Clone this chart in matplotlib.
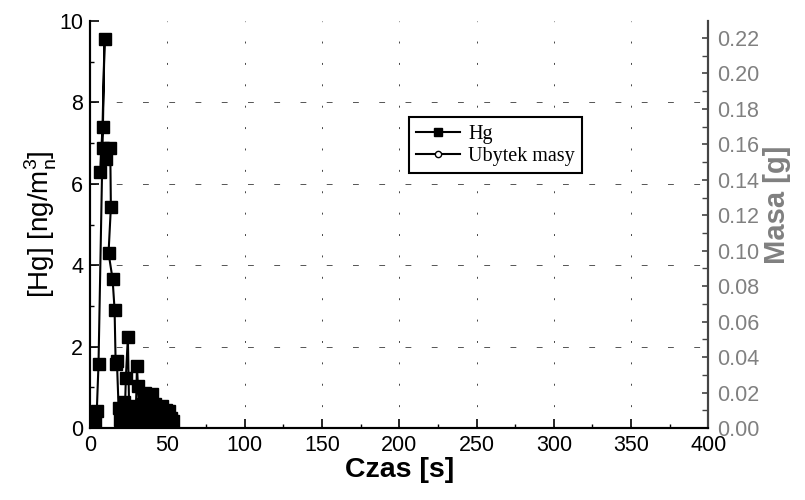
import matplotlib
matplotlib.use("Agg")
import matplotlib.pyplot as plt
from matplotlib.ticker import MultipleLocator, FormatStrFormatter

# ---- data ----
czas_hg = [1.0, 3.2, 4.3, 5.4, 9.3, 8.0, 6.5, 8.6, 10.2, 13.0, 13.4, 11.9, 14.5, 15.8,
           16.5, 17.3, 18.4, 19.4, 20.5, 21.6, 22.4, 23.1, 24.4, 25.2, 25.7, 26.7, 27.8,
           28.5, 29.5, 30.3, 30.9, 31.8, 32.6, 33.5, 34.6, 35.7, 36.5, 37.4, 38.3, 39.2,
           40.0, 41.0, 41.8, 42.7, 43.6, 44.5, 45.5, 46.5, 47.4, 48.3, 49.2, 50.0, 50.8,
           52.0, 53.5]
hg = [0.05, 0.12, 0.42, 1.57, 9.55, 7.4, 6.29, 6.87, 6.62, 6.87, 5.43, 4.30, 3.66, 2.91,
      1.57, 1.65, 0.50, 0.20, 0.35, 0.65, 0.30, 1.24, 2.23, 0.50, 0.20, 0.37, 0.10,
      0.55, 0.30, 1.53, 1.03, 0.45, 0.10, 0.60, 0.25, 0.87, 0.50, 0.12, 0.75, 0.40,
      0.83, 0.30, 0.60, 0.10, 0.50, 0.20, 0.35, 0.55, 0.15, 0.30, 0.45, 0.10, 0.42,
      0.25, 0.17]
czas_masa = []
masa = []

x_ticks = [0, 50, 100, 150, 200, 250, 300, 350, 400]
left_ticks = [0, 2, 4, 6, 8, 10]
right_ticks = [0.00, 0.02, 0.04, 0.06, 0.08, 0.10, 0.12, 0.14, 0.16, 0.18, 0.20, 0.22]

plt.rcParams['font.family'] = ['Liberation Sans', 'DejaVu Sans']

fig = plt.figure(figsize=(8.05, 5.0), dpi=100)
ax = fig.add_axes([0.112, 0.144, 0.768, 0.814])
ax2 = ax.twinx()

gray = '#808080'

# grid (sparse dotted)
for xv in x_ticks[1:-1]:
    ax.axvline(xv, color='#444444', lw=0.7, ls=(0, (2, 20)), zorder=0)
for yv in left_ticks[1:-1]:
    ax.axhline(yv, color='#555555', lw=0.7, ls=(0, (6, 21)), zorder=0)

l1, = ax.plot(czas_hg, hg, '-s', color='black', lw=1.5, ms=8, label='Hg', zorder=3)
l2, = ax2.plot(czas_masa, masa, '-o', color='black', mfc='white', lw=1.5, ms=6,
               label='Ubytek masy')

ax.set_xlim(0, 400)
ax.set_ylim(0, 10)
ax2.set_ylim(0, 0.2296)

ax.set_xticks(x_ticks)
ax.xaxis.set_minor_locator(MultipleLocator(25))
ax.set_yticks(left_ticks)
ax.yaxis.set_minor_locator(MultipleLocator(1))
ax2.set_yticks(right_ticks)
ax2.yaxis.set_minor_locator(MultipleLocator(0.01))
ax2.yaxis.set_major_formatter(FormatStrFormatter('%.2f'))

ax.tick_params(axis='both', which='major', direction='in', length=6.5, width=1.2,
               labelsize=15.5, pad=5)
ax.tick_params(axis='both', which='minor', direction='in', length=3, width=1.0)
ax2.tick_params(axis='y', which='major', direction='in', length=4, width=1.2,
                labelsize=15.5, labelcolor=gray, color='#444444', pad=6)
ax2.tick_params(axis='y', which='minor', direction='in', length=4, width=1.0,
                color='#444444')

for a in (ax, ax2):
    a.spines['top'].set_visible(False)
    for s in ('left', 'right', 'bottom'):
        a.spines[s].set_linewidth(1.5)
ax2.spines['right'].set_color('#444444')

ax.set_xlabel('Czas [s]', fontsize=20.5, fontweight='bold', labelpad=1)
ax.set_ylabel('[Hg] [ng/m$_\\mathregular{n}^\\mathregular{3}$]', fontsize=20, labelpad=0)
ax2.set_ylabel('Masa [g]', fontsize=21, fontweight='bold', color=gray)
ax2.yaxis.set_label_coords(1.089, 0.548)

leg = ax.legend(handles=[l1, l2], loc='upper left', bbox_to_anchor=(0.515, 0.763),
                prop={'family': 'Liberation Serif', 'size': 14.5}, frameon=True,
                fancybox=False, edgecolor='black', framealpha=1, handlelength=2.2,
                borderpad=0.35, labelspacing=0.15, handletextpad=0.4, borderaxespad=0,
                markerscale=0.75)
leg.get_frame().set_linewidth(1.5)
leg.set_zorder(5)

fig.savefig('out.png', dpi=100)
